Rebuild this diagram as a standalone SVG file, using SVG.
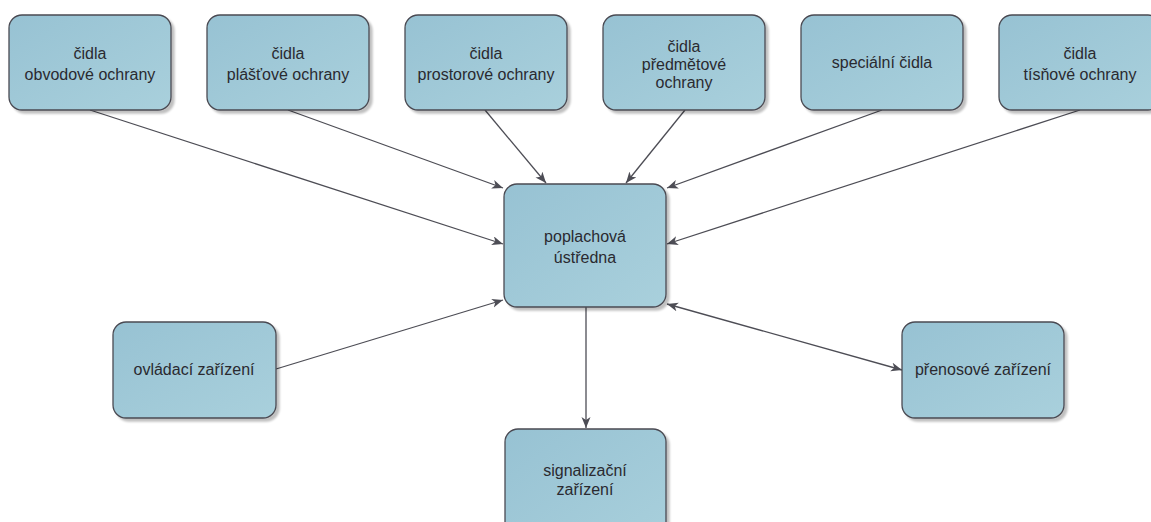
<svg xmlns="http://www.w3.org/2000/svg" width="1151" height="522" viewBox="0 0 1151 522">
<defs>
<linearGradient id="fill" x1="0" y1="0" x2="1" y2="1">
<stop offset="0" stop-color="#97c2d3"/>
<stop offset="1" stop-color="#a9d0dc"/>
</linearGradient>
<filter id="sh" x="-10%" y="-10%" width="130%" height="130%">
<feGaussianBlur in="SourceAlpha" stdDeviation="1.2"/>
<feOffset dx="3" dy="3" result="b"/>
<feComponentTransfer><feFuncA type="linear" slope="0.25"/></feComponentTransfer>
<feMerge><feMergeNode/><feMergeNode in="SourceGraphic"/></feMerge>
</filter>
<marker id="arr" markerWidth="12" markerHeight="10" refX="11" refY="4.5" orient="auto-start-reverse" markerUnits="userSpaceOnUse">
<path d="M0,0 L11,4.5 L0,9 L3,4.5 Z" fill="#4d4d55"/>
</marker>
</defs>
<style>
.box{fill:url(#fill);stroke:#4a4a52;stroke-width:1.3;filter:url(#sh)}
.t{font-family:"Liberation Sans",Arial,sans-serif;font-size:16px;fill:#2a2a30;text-anchor:middle}
.c{fill:none;stroke:#4d4d55;stroke-width:1.3;marker-end:url(#arr)}
</style>
<rect width="1151" height="522" fill="#ffffff"/>
<g id="connectors">
<line class="c" x1="90" y1="110" x2="503" y2="244"/>
<line class="c" x1="288" y1="110" x2="503" y2="188"/>
<line class="c" x1="485" y1="110" x2="546" y2="183"/>
<line class="c" x1="685" y1="110" x2="626" y2="183"/>
<line class="c" x1="882" y1="110" x2="667" y2="188"/>
<line class="c" x1="1080" y1="110" x2="667" y2="244"/>
<line class="c" x1="276" y1="369" x2="503" y2="300"/>
<line class="c" x1="586" y1="307" x2="586" y2="428"/>
<line class="c" x1="667" y1="304" x2="902" y2="370" style="marker-start:url(#arr)"/>
</g>
<g id="n1"><rect class="box" x="9" y="15" width="162" height="95" rx="13"/><text class="t" x="90" y="59">čidla</text><text class="t" x="90" y="80">obvodové ochrany</text></g>
<g id="n2"><rect class="box" x="207" y="15" width="162" height="95" rx="13"/><text class="t" x="288" y="59">čidla</text><text class="t" x="288" y="80">plášťové ochrany</text></g>
<g id="n3"><rect class="box" x="405" y="15" width="162" height="95" rx="13"/><text class="t" x="486" y="59">čidla</text><text class="t" x="486" y="80">prostorové ochrany</text></g>
<g id="n4"><rect class="box" x="603" y="15" width="162" height="95" rx="13"/><text class="t" x="684" y="52">čidla</text><text class="t" x="684" y="70">předmětové</text><text class="t" x="684" y="88">ochrany</text></g>
<g id="n5"><rect class="box" x="801" y="15" width="162" height="95" rx="13"/><text class="t" x="882" y="68">speciální čidla</text></g>
<g id="n6"><rect class="box" x="999" y="15" width="162" height="95" rx="13"/><text class="t" x="1080" y="59">čidla</text><text class="t" x="1080" y="80">tísňové ochrany</text></g>
<g id="center"><rect class="box" x="504" y="184" width="162" height="123" rx="13"/><text class="t" x="585" y="242">poplachová</text><text class="t" x="585" y="263">ústředna</text></g>
<g id="left"><rect class="box" x="113" y="322" width="163" height="96" rx="13"/><text class="t" x="194" y="375">ovládací zařízení</text></g>
<g id="right"><rect class="box" x="902" y="322" width="162" height="96" rx="13"/><text class="t" x="983" y="375">přenosové zařízení</text></g>
<g id="bottom"><rect class="box" x="505" y="429" width="161" height="123" rx="13"/><text class="t" x="585" y="476">signalizační</text><text class="t" x="585" y="495">zařízení</text></g>
</svg>
